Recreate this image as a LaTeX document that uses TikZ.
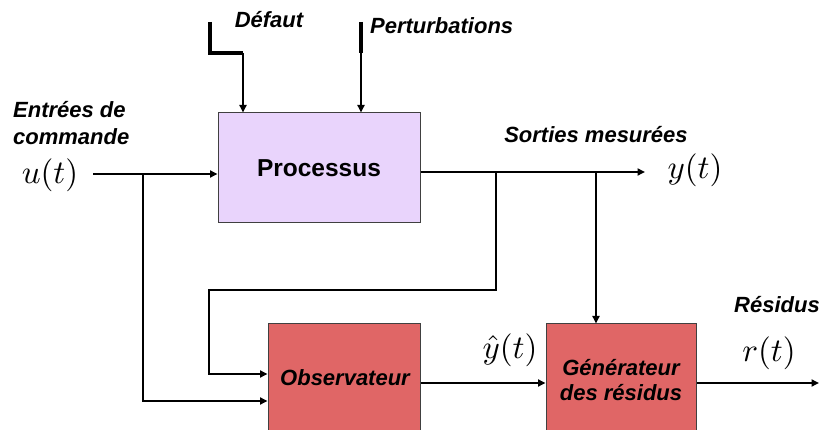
\documentclass[tikz,border=0pt]{standalone}
\usepackage{graphicx}
\usepackage{fontspec}
\setmainfont{Liberation Sans}
\usetikzlibrary{arrows.meta,calc}
\definecolor{procfill}{RGB}{233,212,252}
\definecolor{redfill}{RGB}{224,102,102}
\newcommand{\largemath}[1]{\scalebox{3.3}{$#1$}}
\begin{document}
\begin{tikzpicture}[x=1pt,y=-1pt,
  conn/.style={line width=1.8pt,-{Triangle[length=7.5pt,width=7pt]}},
  heavy/.style={line width=4.5pt,line join=miter},
  blk/.style={draw=black!75,line width=1pt,inner sep=0pt,align=center},
  lbl/.style={font=\fontsize{22}{26}\selectfont\bfseries\itshape,inner sep=0pt,align=left},
  mth/.style={inner sep=0pt}]
\clip (0,0) rectangle (820,430);

% blocks
\node[blk,fill=procfill,minimum width=202pt,minimum height=110pt,
      font=\fontsize{24.5}{28}\selectfont\bfseries] (proc) at (319,168) {Processus};
\node[blk,fill=redfill,minimum width=152pt,minimum height=110pt] (obs) at (344,379) {};
\node[blk,fill=redfill,minimum width=150pt,minimum height=110pt] (gen) at (621,379) {};
\node[lbl] (obstxt) at (345,378) {Observateur};
\node[lbl,align=center,font=\fontsize{22}{25}\selectfont\bfseries\itshape] (gentxt) at (621,380) {Générateur\\des résidus};

% labels
\node[lbl] (defaut) at (269,20) {Défaut};
\node[lbl,anchor=west] (pert) at (370,26) {Perturbations};
\node[lbl,anchor=west] (entr) at (13,110) {Entrées de};
\node[lbl,anchor=west] (comm) at (13,137) {commande};
\node[mth] (ut) at (50,175) {\largemath{u(t)}};
\node[lbl] (sort) at (596,135) {Sorties mesurées};
\node[mth] (yt) at (695,170) {\largemath{y(t)}};
\node[mth] (yht) at (510,350) {\largemath{\hat y(t)}};
\node[mth] (rt) at (769,353) {\largemath{r(t)}};
\node[lbl] (resid) at (777,305) {Résidus};

% coordinates
\coordinate (d0) at (210,22);
\coordinate (d1) at (243,53);
\coordinate (p0) at (361,22);
\coordinate (p1) at (361,53);
\coordinate (uin) at (93,174);
\coordinate (ub) at (143,174);
\coordinate (yout) at (645,172);
\coordinate (yb1) at (496,172);
\coordinate (yb2) at (596,172);
\coordinate (fb) at (209,290);
\coordinate (rout) at (819,383);

% top inputs
\draw[heavy] (d0) |- (d1);
\draw[conn] (d1) -- (d1 |- proc.north);
\draw[heavy] (p0) -- (p1);
\draw[conn] (p1) -- (p1 |- proc.north);

% command input
\draw[conn] (uin) -- (uin -| proc.west);
\draw[conn] (ub) |- (obs.west |- 0,401);

% outputs
\draw[conn] (proc.east |- yout) -- (yout);
\draw[conn] (yb1) |- (fb) |- (obs.west |- 0,374);
\draw[conn] (yb2) -- (yb2 |- gen.north);
\draw[conn] (obs.east |- 0,383) -- (gen.west |- 0,383);
\draw[conn] (gen.east |- rout) -- (rout);
\end{tikzpicture}
\end{document}
